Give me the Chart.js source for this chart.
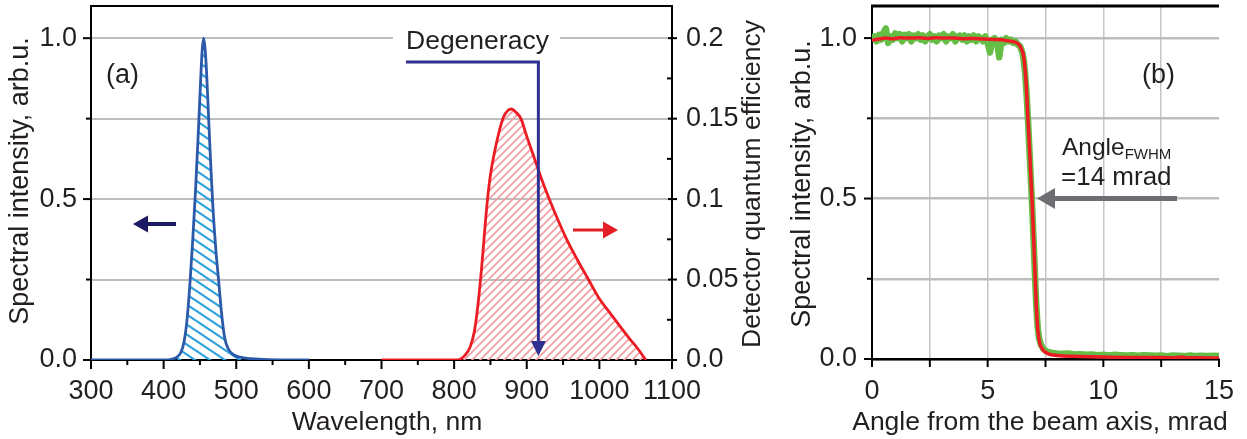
<!DOCTYPE html>
<html>
<head>
<meta charset="utf-8">
<title>Pump spectrum, detector QE and angular profile</title>
<script src="https://cdn.jsdelivr.net/npm/chart.js@4.4.1/dist/chart.umd.min.js"></script>
<style>
  html, body { margin: 0; padding: 0; background: #fff; }
  body { width: 1247px; height: 439px; position: relative; overflow: hidden; }
  canvas { position: absolute; top: 0; }
  #chartA { left: 0; }
  #chartB { left: 790px; }
</style>
</head>
<body>
<canvas id="chartA" width="790" height="439"></canvas>
<canvas id="chartB" width="457" height="439"></canvas>
<script>
// ---- panel (a): pump spectrum (left axis) and detector QE (right axis) ----
const blueWl  = [300, 400, 412, 419, 424, 428, 432, 436, 440, 444, 448, 451, 453, 455, 457,
                 459, 462, 465, 468, 472, 476, 480, 484, 489, 496, 505, 520, 545, 600];
const blueInt = [0, 0, 0.003, 0.01, 0.025, 0.055, 0.12, 0.23, 0.37, 0.53, 0.72, 0.87, 0.96, 1.0, 0.97,
                 0.9, 0.75, 0.6, 0.47, 0.34, 0.24, 0.14, 0.07, 0.035, 0.017, 0.009, 0.004, 0.001, 0];

const redWl = [700, 805, 815, 822, 828, 833, 838, 842, 846, 850, 856, 862, 868, 874, 879, 885,
               892, 900, 910, 920, 931, 943, 956, 970, 985, 1000, 1015, 1030, 1042, 1053, 1064];
const redQe = [0, 0, 0.003, 0.008, 0.018, 0.035, 0.058, 0.08, 0.1, 0.115, 0.13, 0.142, 0.151, 0.155, 0.156, 0.154,
               0.15, 0.139, 0.126, 0.113, 0.1, 0.087, 0.074, 0.062, 0.05, 0.038, 0.029, 0.02, 0.013, 0.007, 0];

const degeneracyWl = 916;

const wlTicks = [300, 400, 500, 600, 700, 800, 900, 1000, 1100];
const wlMinor = [350, 450, 550, 650, 750, 850, 950, 1050];
const intTicks = [0, 0.25, 0.5, 0.75, 1.0];
const qeTicks = [0, 0.05, 0.1, 0.15, 0.2];
const qeMinor = [0.025, 0.075, 0.125, 0.175];

// ---- panel (b): angular profile, raw and smoothed ----
const angleRaw = [0, 0.1, 0.2, 0.3, 0.4, 0.5, 0.6, 0.7, 0.8, 0.9,
                  1.0, 1.1, 1.2, 1.3, 1.4, 1.5, 1.6, 1.7, 1.8, 1.9,
                  2.0, 2.1, 2.2, 2.3, 2.4, 2.5, 2.6, 2.7, 2.8, 2.9,
                  3.0, 3.1, 3.2, 3.3, 3.4, 3.5, 3.6, 3.7, 3.8, 3.9,
                  4.0, 4.1, 4.2, 4.3, 4.4, 4.5, 4.6, 4.7, 4.8, 4.9,
                  5.0, 5.1, 5.2, 5.3, 5.4, 5.5, 5.6, 5.7, 5.8, 5.9,
                  6.0, 6.1, 6.2, 6.3,
                  6.4, 6.5, 6.56, 6.62, 6.68, 6.74, 6.8, 6.86, 6.92, 6.98, 7.04, 7.1, 7.16, 7.22, 7.3, 7.4, 7.5, 7.6,
                  7.8, 8.0, 8.25, 8.5, 8.75, 9.0, 9.25, 9.5, 9.75, 10.0, 10.25, 10.5, 10.75, 11.0, 11.25,
                  11.5, 11.75, 12.0, 12.25, 12.5, 12.75, 13.0, 13.25, 13.5, 13.75, 14.0, 14.25, 14.5, 14.75, 15.0];
const intensityRaw = [0.99, 1.005, 0.99, 1.01, 0.995, 1.018, 1.03, 0.985, 1.005, 0.995,
                      1.015, 1.0, 1.012, 0.99, 1.01, 1.0, 1.012, 0.99, 1.008, 1.0,
                      1.012, 0.995, 1.008, 0.99, 1.005, 1.012, 0.995, 1.005, 0.99, 1.008,
                      1.0, 1.012, 0.99, 1.005, 1.0, 1.012, 0.99, 1.005, 1.008, 0.995,
                      1.008, 0.99, 1.005, 0.995, 1.008, 0.99, 1.005, 1.0, 0.99, 1.005,
                      0.985, 0.955, 0.995, 1.0, 0.99, 0.94, 0.995, 0.985, 1.0, 0.99,
                      0.995, 0.985, 0.99, 0.98,
                      0.975, 0.955, 0.93, 0.89, 0.83, 0.75, 0.66, 0.57, 0.48, 0.38, 0.27, 0.17, 0.1, 0.065, 0.045, 0.032, 0.026, 0.022,
                      0.019, 0.017, 0.016, 0.017, 0.014, 0.015, 0.013, 0.014, 0.012, 0.013, 0.011, 0.013, 0.012, 0.011, 0.012,
                      0.01, 0.012, 0.011, 0.01, 0.011, 0.009, 0.011, 0.01, 0.009, 0.011, 0.009, 0.01, 0.009, 0.01, 0.009];

const angleFit = [0, 0.3, 0.6, 0.9, 1.2, 1.6, 2.0, 2.4, 2.8, 3.2, 3.6, 4.0, 4.4, 4.8, 5.2, 5.6, 6.0, 6.2,
                  6.35, 6.45, 6.55, 6.62, 6.68, 6.74, 6.8, 6.86, 6.92, 6.98, 7.04, 7.1, 7.17, 7.25, 7.4, 7.6,
                  8.0, 9.0, 10.0, 11.0, 12.0, 13.0, 13.4, 13.6, 14.2, 15.0];
const intensityFit = [0.993, 0.997, 1.0, 0.998, 1.001, 1.0, 1.001, 0.999, 1.001, 1.0, 1.0, 0.998, 0.999, 0.997, 0.996, 0.995, 0.99, 0.987,
                      0.98, 0.968, 0.945, 0.9, 0.84, 0.75, 0.67, 0.58, 0.49, 0.39, 0.28, 0.17, 0.09, 0.05, 0.027, 0.017,
                      0.011, 0.008, 0.006, 0.005, 0.005, 0.004, 0.006, 0.004, 0.004, 0.003];

const angleTicks = [0, 2.5, 5, 7.5, 10, 12.5, 15];

const FONT = '"Liberation Sans", Arial, Helvetica, sans-serif';
const INK = '#231f20';
const GRID = '#bdbdbd';

Chart.defaults.font.family = FONT;
Chart.defaults.color = INK;

const pts = (xs, ys) => xs.map((x, i) => ({ x, y: ys[i] }));
const setTicks = vals => s => { s.ticks = vals.map(value => ({ value })); };
const majorLabel = v => (v === 0 || v === 0.5 || v === 1) ? v.toFixed(1) : '';

function hatch(color, w, h, dir, lw) {
  const c = document.createElement('canvas');
  c.width = w; c.height = h;
  const g = c.getContext('2d');
  g.strokeStyle = color; g.lineWidth = lw;
  for (let k = -1; k <= 1; k++) {
    g.beginPath();
    if (dir === 'down') { g.moveTo(-w, k * h - h); g.lineTo(2 * w, k * h + 2 * h); }
    else { g.moveTo(-w, k * h + 2 * h); g.lineTo(2 * w, k * h - h); }
    g.stroke();
  }
  return g.createPattern(c, 'repeat');
}

function seg(ctx, x1, y1, x2, y2, color, w) {
  ctx.beginPath(); ctx.moveTo(x1, y1); ctx.lineTo(x2, y2);
  ctx.strokeStyle = color; ctx.lineWidth = w; ctx.lineCap = 'butt'; ctx.stroke();
}

function arrow(ctx, x1, y1, x2, y2, color, w, head, half) {
  const ang = Math.atan2(y2 - y1, x2 - x1);
  const bx = x2 - Math.cos(ang) * head, by = y2 - Math.sin(ang) * head;
  seg(ctx, x1, y1, bx + Math.cos(ang), by + Math.sin(ang), color, w);
  ctx.beginPath();
  ctx.moveTo(x2, y2);
  ctx.lineTo(bx + Math.sin(ang) * half, by - Math.cos(ang) * half);
  ctx.lineTo(bx - Math.sin(ang) * half, by + Math.cos(ang) * half);
  ctx.closePath(); ctx.fillStyle = color; ctx.fill();
}

function label(ctx, str, x, y, size, align, rot) {
  ctx.save(); ctx.translate(x, y); if (rot) ctx.rotate(rot);
  ctx.font = size + 'px ' + FONT; ctx.fillStyle = INK;
  ctx.textAlign = align || 'left'; ctx.textBaseline = 'alphabetic';
  ctx.fillText(str, 0, 0);
  const w = ctx.measureText(str).width;
  ctx.restore();
  return w;
}

function xMarks(ctx, scale, vals, y, len) {
  vals.forEach(v => { const x = scale.getPixelForValue(v); seg(ctx, x, y, x, y + len, '#000', 2); });
}
function yMarks(ctx, scale, vals, x, from, to) {
  vals.forEach(v => { const y = scale.getPixelForValue(v); seg(ctx, x + from, y, x + to, y, '#000', 2); });
}

const panelADecor = {
  id: 'panelADecor',
  afterDraw(chart) {
    const { ctx, chartArea: a } = chart;
    const { x, y, y2 } = chart.scales;
    ctx.save();
    seg(ctx, a.left - 1, a.top, a.right + 1, a.top, '#000', 2);
    xMarks(ctx, x, wlTicks, a.bottom, 9);
    xMarks(ctx, x, wlMinor, a.bottom, 5);
    yMarks(ctx, y, [0, 0.5, 1.0], a.left, -8, 0);
    yMarks(ctx, y, [0.25, 0.75], a.left, -5, 0);
    yMarks(ctx, y2, qeTicks, a.right, -4, 5);
    yMarks(ctx, y2, qeMinor, a.right, -5, 0);

    // degeneracy marker
    ctx.fillStyle = '#fff';
    ctx.fillRect(393, 26, 167, 31);
    label(ctx, 'Degeneracy', 406, 49, 26.5);
    const dx = x.getPixelForValue(degeneracyWl);
    seg(ctx, 406, 62, dx + 1.5, 62, '#2e3192', 3);
    arrow(ctx, dx, 62, dx, a.bottom - 4, '#2e3192', 3, 15, 7.5);

    // axis pointers
    arrow(ctx, 176, 224, 133, 224, '#1b1a63', 4, 15, 8.5);
    arrow(ctx, 573, 230, 618, 230, '#e41f26', 3, 15, 8.5);

    label(ctx, '(a)', 106, 83, 27);
    label(ctx, 'Spectral intensity, arb.u.', 28, 181, 27, 'center', -Math.PI / 2);
    label(ctx, 'Detector quantum efficiency', 760, 184, 26.5, 'center', -Math.PI / 2);
    label(ctx, 'Wavelength, nm', 387, 430, 26.5, 'center');
    ctx.restore();
  }
};

const panelBDecor = {
  id: 'panelBDecor',
  afterDraw(chart) {
    const { ctx, chartArea: a } = chart;
    const { x, y } = chart.scales;
    ctx.save();
    seg(ctx, a.left - 1, a.top, a.right, a.top, '#000', 3);
    xMarks(ctx, x, angleTicks, a.bottom, 8);
    yMarks(ctx, y, [0, 0.5, 1.0], a.left, -8, 0);
    yMarks(ctx, y, [0.25, 0.75], a.left, -5, 0);

    label(ctx, '(b)', 352, 83, 27);
    const w = label(ctx, 'Angle', 272, 155, 24.5);
    label(ctx, 'FWHM', 272 + w, 159, 15);
    label(ctx, '=14 mrad', 271, 185, 26);
    const ty = y.getPixelForValue(0.5);
    arrow(ctx, 387, ty, 247, ty, '#6d6e71', 5, 18, 10.5);

    label(ctx, 'Spectral intensity, arb.u.', 20, 184, 27, 'center', -Math.PI / 2);
    label(ctx, 'Angle from the beam axis, mrad', 250, 430, 26.5, 'center');
    ctx.restore();
  }
};

new Chart(document.getElementById('chartA'), {
  type: 'line',
  data: {
    datasets: [
      {
        data: pts(blueWl, blueInt), yAxisID: 'y',
        borderColor: '#2c5aa9', borderWidth: 2.8,
        backgroundColor: hatch('#2fa2de', 15, 10, 'down', 2.2), fill: 'origin',
        pointRadius: 0, cubicInterpolationMode: 'monotone'
      },
      {
        data: pts(redWl, redQe), yAxisID: 'y2',
        borderColor: '#ec1c24', borderWidth: 2.8,
        backgroundColor: hatch('#f39ea3', 8, 8, 'up', 1.7), fill: 'origin',
        pointRadius: 0, cubicInterpolationMode: 'monotone'
      }
    ]
  },
  options: {
    responsive: false,
    animation: false,
    layout: { padding: { top: 6, left: 0, right: 0, bottom: 0 } },
    plugins: { legend: { display: false }, tooltip: { enabled: false } },
    scales: {
      x: {
        type: 'linear', min: 300, max: 1100,
        afterBuildTicks: setTicks(wlTicks),
        afterFit: s => { s.height = 79; s.paddingLeft = 0; s.paddingRight = 0; },
        grid: { display: false, drawTicks: false },
        border: { color: '#000', width: 2 },
        ticks: { autoSkip: false, maxRotation: 0, padding: 15, font: { size: 27 }, color: INK,
                 callback: v => String(v) }
      },
      y: {
        position: 'left', min: 0, max: 1.1,
        afterBuildTicks: setTicks(intTicks),
        afterFit: s => { s.width = 91; s.paddingTop = 0; s.paddingBottom = 0; },
        grid: { color: GRID, lineWidth: 2, drawTicks: false },
        border: { color: '#000', width: 2 },
        ticks: { padding: 14, font: { size: 27 }, color: INK, callback: majorLabel }
      },
      y2: {
        position: 'right', min: 0, max: 0.22,
        afterBuildTicks: setTicks(qeTicks),
        afterFit: s => { s.width = 118; s.paddingTop = 0; s.paddingBottom = 0; },
        grid: { display: false, drawTicks: false },
        border: { color: '#000', width: 2 },
        ticks: { padding: 14, font: { size: 27 }, color: INK, callback: v => v === 0 ? '0.0' : String(v) }
      }
    }
  },
  plugins: [panelADecor]
});

new Chart(document.getElementById('chartB'), {
  type: 'line',
  data: {
    datasets: [
      {
        // smoothed curve listed first so it is drawn on top
        data: pts(angleFit, intensityFit),
        borderColor: '#ed1c24', borderWidth: 3.5,
        pointRadius: 0, cubicInterpolationMode: 'monotone', fill: false
      },
      {
        data: pts(angleRaw, intensityRaw),
        borderColor: '#66bd45', borderWidth: 6.5, borderJoinStyle: 'round',
        pointRadius: 0, tension: 0, fill: false
      }
    ]
  },
  options: {
    responsive: false,
    animation: false,
    layout: { padding: { top: 6, left: 0, right: 28, bottom: 0 } },
    plugins: { legend: { display: false }, tooltip: { enabled: false } },
    scales: {
      x: {
        type: 'linear', min: 0, max: 15,
        afterBuildTicks: setTicks(angleTicks),
        afterFit: s => { s.height = 80; s.paddingLeft = 0; s.paddingRight = 0; },
        grid: {
          color: c => (c.tick && (c.tick.value === 0 || c.tick.value === 15)) ? 'rgba(0,0,0,0)' : '#c6c6c6',
          lineWidth: 1.5, drawTicks: false
        },
        border: { color: '#000', width: 2.5 },
        ticks: { autoSkip: false, maxRotation: 0, padding: 16, font: { size: 27 }, color: INK,
                 callback: v => v % 5 === 0 ? String(v) : '' }
      },
      y: {
        min: 0, max: 1.1,
        afterBuildTicks: setTicks(intTicks),
        afterFit: s => { s.width = 82; s.paddingTop = 0; s.paddingBottom = 0; },
        grid: { color: GRID, lineWidth: 2.5, drawTicks: false },
        border: { color: '#000', width: 2 },
        ticks: { padding: 15, font: { size: 27 }, color: INK, callback: majorLabel }
      }
    }
  },
  plugins: [panelBDecor]
});
</script>
</body>
</html>
